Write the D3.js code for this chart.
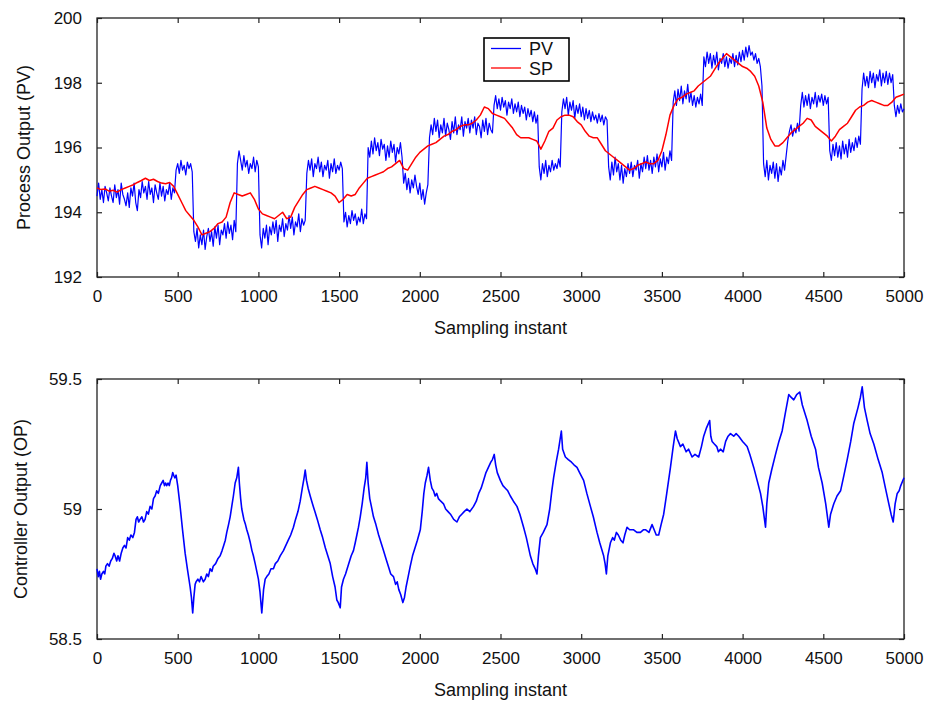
<!DOCTYPE html>
<html>
<head>
<meta charset="utf-8">
<script src="https://cdn.jsdelivr.net/npm/d3@7"></script>
<style>
  body { margin: 0; background: #fff; }
  text { font-family: "Liberation Sans", Arial, sans-serif; }
</style>
</head>
<body>
<script>
const width = 929
const height = 701

// x ticks shared by both panels
const xTicks = [0, 500, 1000, 1500, 2000, 2500, 3000, 3500, 4000, 4500, 5000]
const pvTicks = [192, 194, 196, 198, 200]
const opTicks = [58.5, 59, 59.5]

// process output, one value every 10 samples (0..5000), one row per 100 samples
const pvStep = 10
const pv = [
  194.5, 194.9, 194.4, 194.7, 194.3, 194.8, 194.6, 194.35, 194.75, 194.5,
  194.3, 194.85, 194.45, 194.7, 194.25, 194.9, 194.55, 194.4, 194.2, 194.6,
  194.15, 194.75, 194.5, 194.9, 194.3, 194.05, 194.7, 194.45, 194.95, 194.6,
  194.8, 194.4, 194.95, 194.55, 194.75, 194.3, 194.85, 194.6, 194.4, 194.9,
  194.5, 194.8, 194.35, 194.7, 194.55, 194.9, 194.4, 194.75, 194.6, 195.3,
  195.5, 195.2, 195.6, 195.3, 195.45, 195.15, 195.55, 195.35, 195.5, 195.25,
  193.4, 193.1, 193.5, 192.9, 193.3, 193.0, 193.45, 192.85, 193.25, 193.5,
  193.1, 193.4, 192.95, 193.55, 193.2, 193.6, 193.0, 193.45, 193.3, 193.65,
  193.2, 193.7, 193.35, 193.6, 193.15, 193.75, 193.4, 195.5, 195.9, 195.6,
  195.3, 195.75, 195.4, 195.6, 195.2, 195.5, 195.35, 195.7, 195.25, 195.6,
  195.4, 193.3, 192.9, 193.5, 193.2, 193.6, 193.0, 193.55, 193.3, 193.7,
  193.35, 193.75, 193.1, 193.6, 193.4, 193.8, 193.25, 193.65, 193.45, 193.9,
  193.5, 193.85, 193.3, 193.7, 193.55, 193.95, 193.4, 193.8, 193.6, 193.75,
  195.2, 195.6, 195.3, 195.65, 195.1, 195.5, 195.35, 195.7, 195.25, 195.55,
  195.1, 195.45, 195.3, 195.6, 195.05, 195.5, 195.25, 195.65, 195.2, 195.45,
  195.3, 195.55, 195.35, 193.7, 194.0, 193.55, 193.9, 193.65, 194.05, 193.75,
  193.95, 193.6, 193.85, 193.7, 194.1, 193.65, 193.95, 193.8, 196.0, 195.7,
  196.2, 195.8, 196.3, 195.9, 196.15, 195.75, 196.25, 195.95, 196.1, 195.6,
  196.05, 195.7, 196.2, 195.85, 196.1, 195.55, 196.0, 195.8, 196.15, 195.7,
  194.9, 195.2, 194.7, 195.05, 194.6, 195.0, 194.75, 195.15, 194.8, 194.55,
  194.9, 194.4, 194.7, 194.25, 194.6, 194.85, 196.3, 196.7, 196.4, 196.9,
  196.5, 196.85, 196.3, 196.7, 196.45, 196.9, 196.35, 196.75, 196.55, 196.25,
  196.8, 196.45, 196.95, 196.4, 196.7, 196.55, 196.95, 196.35, 196.8, 196.6,
  196.9, 196.45, 196.85, 196.6, 196.95, 196.4, 196.75, 196.65, 196.3, 196.85,
  196.5, 196.9, 196.4, 196.75, 196.55, 196.45, 197.3, 197.6, 197.2, 197.5,
  197.15, 197.55, 197.25, 197.45, 197.0, 197.4, 197.2, 197.5, 197.05, 197.35,
  197.1, 197.4, 196.95, 197.3, 197.05, 197.25, 196.85, 197.2, 196.95, 197.15,
  196.8, 197.1, 196.75, 197.0, 195.4, 195.0, 195.5, 195.2, 195.6, 195.1,
  195.45, 195.25, 195.6, 195.3, 195.5, 195.35, 195.65, 195.4, 197.1, 197.5,
  197.2, 197.55, 197.0, 197.4, 197.15, 197.45, 196.9, 197.3, 197.05, 197.35,
  196.95, 197.25, 196.85, 197.2, 196.9, 197.15, 196.8, 197.1, 196.85, 197.0,
  196.75, 197.05, 196.8, 197.0, 196.7, 196.95, 196.85, 195.4, 195.0, 195.55,
  195.15, 195.7, 195.25, 195.5, 195.0, 195.45, 194.9, 195.35, 195.1, 195.5,
  195.2, 195.55, 195.1, 195.45, 195.3, 195.6, 195.05, 195.5, 195.25, 195.7,
  195.35, 195.75, 195.3, 195.6, 195.2, 195.7, 195.4, 195.8, 195.25, 195.65,
  195.4, 195.85, 195.3, 195.7, 195.5, 195.9, 195.6, 197.4, 197.75, 197.3,
  197.8, 197.45, 197.9, 197.35, 197.75, 197.5, 197.95, 197.4, 197.7, 197.3,
  197.6, 197.25, 197.55, 197.35, 197.65, 197.3, 198.8, 198.5, 198.95, 198.6,
  198.9, 198.45, 198.85, 198.55, 198.95, 198.4, 198.75, 198.6, 198.9, 198.5,
  198.8, 198.45, 198.75, 198.6, 198.9, 198.5, 198.85, 198.55, 198.95, 198.65,
  199.0, 198.7, 199.1, 198.8, 199.15, 198.85, 198.95, 198.7, 198.9, 198.6,
  198.75, 198.5, 197.9, 195.5, 195.1, 195.6, 195.0, 195.45, 195.2, 195.55,
  195.05, 195.5, 194.95, 195.4, 195.15, 195.6, 195.3, 195.75, 196.2, 196.5,
  196.7, 196.35, 196.6, 196.45, 196.75, 196.5, 197.3, 197.7, 197.25, 197.6,
  197.3, 197.65, 197.2, 197.55, 197.35, 197.7, 197.25, 197.6, 197.4, 197.65,
  197.3, 197.6, 197.35, 197.55, 195.9, 195.6, 196.1, 195.75, 196.15, 195.7,
  196.05, 195.65, 196.2, 195.8, 196.1, 195.7, 196.25, 195.85, 196.15, 195.9,
  196.3, 196.0, 196.35, 196.1, 197.8, 198.3, 197.9, 198.2, 197.85, 198.35,
  198.0, 198.3, 197.85, 198.25, 198.05, 198.4, 197.9, 198.3, 198.0, 198.35,
  197.95, 198.3, 198.0, 198.25, 197.3, 196.95, 197.3, 197.05, 197.35, 197.1,
  197.2
]

// set point, one value every 25 samples (0..5000), one row per 500 samples
const spStep = 25
const sp = [
  194.75, 194.7, 194.72, 194.65, 194.68, 194.62, 194.7, 194.75, 194.8, 194.85,
  194.92, 194.98, 195.05, 194.98, 195.02, 194.95, 194.9, 194.88, 194.92, 194.8,
  194.55, 194.3, 194.05, 193.9, 193.75, 193.55, 193.3, 193.35, 193.4, 193.5,
  193.65, 193.7, 193.85, 194.3, 194.6, 194.55, 194.5, 194.55, 194.6, 194.4,
  194.1, 193.95, 193.9, 193.85, 193.8, 193.9, 194.0, 193.8, 193.85, 194.15,
  194.35, 194.55, 194.7, 194.75, 194.8, 194.75, 194.7, 194.65, 194.6, 194.5,
  194.3, 194.4, 194.55, 194.5, 194.55, 194.75, 194.9, 195.05, 195.1, 195.15,
  195.2, 195.25, 195.35, 195.4, 195.5, 195.6, 195.35, 195.3, 195.5, 195.7,
  195.85, 195.95, 196.05, 196.1, 196.15, 196.25, 196.35, 196.4, 196.5, 196.55,
  196.65, 196.7, 196.7, 196.75, 196.85, 197.0, 197.25, 197.2, 197.05, 197.0,
  196.95, 196.9, 196.75, 196.6, 196.4, 196.3, 196.3, 196.3, 196.25, 196.2,
  195.95, 196.2, 196.5, 196.6, 196.85, 196.95, 197.0, 197.0, 196.95, 196.8,
  196.7, 196.5, 196.35, 196.3, 196.3, 196.1, 195.9, 195.8, 195.7, 195.6,
  195.5, 195.4, 195.3, 195.35, 195.45, 195.5, 195.55, 195.5, 195.5, 195.6,
  195.9, 196.4, 197.0, 197.3, 197.5, 197.55, 197.65, 197.7, 197.75, 197.9,
  198.0, 198.1, 198.2, 198.4, 198.6, 198.75, 198.9, 198.8, 198.7, 198.6,
  198.5, 198.45, 198.35, 198.2, 197.9, 197.4, 196.6, 196.25, 196.05, 196.05,
  196.15, 196.3, 196.45, 196.55, 196.65, 196.75, 196.9, 196.85, 196.65, 196.55,
  196.45, 196.35, 196.2, 196.35, 196.55, 196.65, 196.75, 196.95, 197.15, 197.25,
  197.3, 197.4, 197.45, 197.4, 197.35, 197.3, 197.3, 197.4, 197.55, 197.6,
  197.65
]

// controller output, [sample, value]
const op = [
  [0, 58.77], [8, 58.74], [15, 58.76], [22, 58.73], [30, 58.75], [40, 58.76], [48, 58.75],
  [55, 58.78], [65, 58.79], [75, 58.78], [85, 58.80], [95, 58.81], [105, 58.83], [112, 58.82],
  [122, 58.80], [130, 58.82], [140, 58.80], [150, 58.83], [160, 58.85], [170, 58.86],
  [180, 58.85], [190, 58.89], [200, 58.88], [210, 58.90], [222, 58.89], [232, 58.91],
  [242, 58.96], [250, 58.97], [258, 58.95], [267, 58.96], [278, 58.97], [288, 58.95],
  [298, 58.96], [308, 58.99], [318, 58.98], [329, 59.01], [340, 59.00], [350, 59.04],
  [360, 59.05], [370, 59.07], [380, 59.06], [392, 59.09], [401, 59.10], [410, 59.11],
  [418, 59.09], [425, 59.10], [432, 59.09], [440, 59.10], [448, 59.09], [455, 59.11],
  [462, 59.12], [469, 59.14], [475, 59.13], [482, 59.12], [490, 59.13], [500, 59.09],
  [515, 59.01], [530, 58.92], [546, 58.83], [560, 58.77], [577, 58.70], [585, 58.66],
  [593, 58.60], [600, 58.66], [608, 58.71], [614, 58.72], [625, 58.73], [635, 58.72],
  [645, 58.74], [659, 58.72], [670, 58.73], [680, 58.75], [690, 58.74], [701, 58.77],
  [712, 58.76], [720, 58.78], [735, 58.79], [750, 58.81], [763, 58.82], [775, 58.84],
  [785, 58.86], [795, 58.88], [804, 58.91], [815, 58.94], [825, 58.97], [835, 59.01],
  [845, 59.05], [856, 59.10], [866, 59.12], [876, 59.16], [882, 59.10], [890, 59.04],
  [897, 59.00], [910, 58.96], [920, 58.94], [928, 58.92], [938, 58.90], [950, 58.87],
  [960, 58.84], [969, 58.82], [980, 58.79], [990, 58.76], [1000, 58.73], [1010, 58.68],
  [1021, 58.60], [1032, 58.69], [1042, 58.73], [1052, 58.74], [1065, 58.75], [1078, 58.77],
  [1093, 58.77], [1105, 58.79], [1120, 58.80], [1135, 58.82], [1155, 58.84], [1170, 58.86],
  [1185, 58.88], [1200, 58.90], [1217, 58.93], [1230, 58.96], [1245, 58.99], [1259, 59.03],
  [1272, 59.08], [1283, 59.12], [1290, 59.15], [1298, 59.11], [1308, 59.08], [1321, 59.05],
  [1335, 59.02], [1350, 58.99], [1365, 58.96], [1383, 58.92], [1398, 58.89], [1415, 58.85],
  [1430, 58.82], [1445, 58.79], [1460, 58.74], [1475, 58.70], [1486, 58.65], [1495, 58.64],
  [1507, 58.62], [1515, 58.70], [1527, 58.73], [1540, 58.75], [1560, 58.79], [1575, 58.82],
  [1589, 58.84], [1600, 58.87], [1610, 58.90], [1620, 58.93], [1631, 58.97], [1643, 59.02],
  [1655, 59.08], [1665, 59.12], [1672, 59.18], [1680, 59.10], [1690, 59.04], [1700, 59.01],
  [1713, 58.97], [1728, 58.94], [1745, 58.90], [1760, 58.87], [1775, 58.84], [1790, 58.81],
  [1805, 58.78], [1820, 58.75], [1837, 58.74], [1850, 58.71], [1860, 58.72], [1870, 58.69],
  [1882, 58.67], [1895, 58.64], [1905, 58.66], [1915, 58.70], [1928, 58.74], [1941, 58.78],
  [1955, 58.82], [1970, 58.85], [1985, 58.88], [2003, 58.92], [2015, 58.99], [2025, 59.06],
  [2034, 59.10], [2045, 59.13], [2054, 59.16], [2065, 59.11], [2075, 59.08], [2085, 59.07],
  [2095, 59.05], [2105, 59.06], [2115, 59.04], [2130, 59.03], [2147, 59.02], [2160, 59.00],
  [2175, 58.99], [2190, 58.98], [2210, 58.96], [2230, 58.95], [2245, 58.97], [2260, 58.98],
  [2275, 58.99], [2292, 59.00], [2310, 58.99], [2333, 59.01], [2350, 59.03], [2365, 59.06],
  [2380, 59.08], [2395, 59.11], [2410, 59.14], [2425, 59.16], [2440, 59.18], [2450, 59.19],
  [2461, 59.21], [2470, 59.17], [2480, 59.14], [2499, 59.11], [2515, 59.09], [2530, 59.08],
  [2545, 59.07], [2561, 59.05], [2580, 59.03], [2602, 59.01], [2620, 58.98], [2643, 58.93],
  [2660, 58.89], [2685, 58.82], [2700, 58.79], [2715, 58.77], [2726, 58.75], [2735, 58.82],
  [2747, 58.89], [2765, 58.91], [2788, 58.94], [2805, 59.00], [2818, 59.07], [2829, 59.12],
  [2845, 59.18], [2860, 59.23], [2877, 59.30], [2885, 59.23], [2902, 59.20], [2920, 59.19],
  [2940, 59.18], [2955, 59.17], [2974, 59.16], [2990, 59.14], [3015, 59.11], [3035, 59.06],
  [3057, 59.01], [3075, 58.97], [3098, 58.91], [3115, 58.87], [3139, 58.82], [3148, 58.79],
  [3156, 58.75], [3165, 58.82], [3181, 58.87], [3195, 58.89], [3205, 58.88], [3218, 58.91],
  [3230, 58.90], [3245, 58.88], [3259, 58.87], [3270, 58.90], [3284, 58.93], [3300, 58.92],
  [3325, 58.92], [3345, 58.91], [3367, 58.91], [3385, 58.92], [3400, 58.92], [3420, 58.91],
  [3439, 58.94], [3452, 58.92], [3465, 58.90], [3480, 58.90], [3495, 58.94], [3511, 58.98],
  [3530, 59.06], [3553, 59.16], [3570, 59.24], [3584, 59.30], [3595, 59.27], [3615, 59.24],
  [3630, 59.25], [3650, 59.22], [3665, 59.23], [3687, 59.20], [3705, 59.21], [3728, 59.20],
  [3745, 59.24], [3759, 59.28], [3775, 59.31], [3796, 59.34], [3803, 59.28], [3811, 59.26],
  [3825, 59.25], [3840, 59.24], [3850, 59.22], [3863, 59.23], [3880, 59.22], [3895, 59.26],
  [3910, 59.28], [3925, 59.29], [3945, 59.28], [3960, 59.29], [3976, 59.28], [4000, 59.26],
  [4028, 59.24], [4045, 59.21], [4069, 59.16], [4090, 59.11], [4111, 59.06], [4125, 59.01],
  [4142, 58.93], [4150, 59.02], [4162, 59.10], [4180, 59.15], [4204, 59.21], [4225, 59.26],
  [4245, 59.30], [4265, 59.37], [4286, 59.44], [4300, 59.43], [4317, 59.42], [4335, 59.44],
  [4354, 59.45], [4370, 59.40], [4385, 59.37], [4400, 59.34], [4425, 59.28], [4452, 59.23],
  [4470, 59.16], [4493, 59.10], [4515, 59.02], [4534, 58.93], [4545, 58.98], [4565, 59.02],
  [4585, 59.05], [4607, 59.07], [4628, 59.13], [4648, 59.19], [4670, 59.26], [4689, 59.33],
  [4715, 59.39], [4730, 59.43], [4741, 59.47], [4755, 59.39], [4772, 59.34], [4790, 59.29],
  [4813, 59.25], [4840, 59.19], [4865, 59.14], [4885, 59.08], [4906, 59.02], [4920, 58.98],
  [4933, 58.95], [4945, 59.02], [4958, 59.06], [4970, 59.07], [4980, 59.09], [5000, 59.12]
]

const svg = d3.select("body").append("svg")
    .attr("width", width).attr("height", height)

const x = d3.scaleLinear().domain([0, 5000]).range([97, 904])

function panel(top, bottom, yDomain, yTicks, yFmt, yTitle, titleX) {
    const y = d3.scaleLinear().domain(yDomain).range([bottom, top])
    const g = svg.append("g")

    g.append("g")
        .attr("transform", `translate(0,${bottom})`)
        .call(d3.axisBottom(x).tickValues(xTicks).tickFormat(d3.format("d"))
            .tickSizeInner(-5).tickSizeOuter(0).tickPadding(13))
        .call(a => a.select(".domain").remove())
    g.append("g")
        .attr("transform", `translate(0,${top})`)
        .call(d3.axisTop(x).tickValues(xTicks).tickSizeInner(-5).tickSizeOuter(0).tickFormat(""))
        .call(a => a.select(".domain").remove())
    g.append("g")
        .attr("transform", `translate(${x.range()[0]},0)`)
        .call(d3.axisLeft(y).tickValues(yTicks).tickFormat(yFmt).tickSizeInner(-5).tickSizeOuter(0).tickPadding(15))
        .call(a => a.select(".domain").remove())
    g.append("g")
        .attr("transform", `translate(${x.range()[1]},0)`)
        .call(d3.axisRight(y).tickValues(yTicks).tickSizeInner(-5).tickSizeOuter(0).tickFormat(""))
        .call(a => a.select(".domain").remove())

    g.selectAll(".tick line").attr("stroke", "#222").attr("stroke-width", 1.2)
    g.selectAll(".tick text").attr("font-size", 17).attr("fill", "#111")
        .attr("font-family", "'Liberation Sans', Arial, sans-serif")

    g.append("rect")
        .attr("x", x.range()[0]).attr("y", top)
        .attr("width", x.range()[1] - x.range()[0]).attr("height", bottom - top)
        .attr("fill", "none").attr("stroke", "#222").attr("stroke-width", 1.3)

    g.append("text")
        .attr("x", (x.range()[0] + x.range()[1]) / 2)
        .attr("y", bottom + 57)
        .attr("text-anchor", "middle")
        .attr("font-size", 18).attr("fill", "#111")
        .text("Sampling instant")

    g.append("text")
        .attr("transform", `translate(${titleX},${(top + bottom) / 2}) rotate(-90)`)
        .attr("text-anchor", "middle")
        .attr("font-size", 18).attr("fill", "#111")
        .text(yTitle)

    return {g, y}
}

const p1 = panel(18, 277, [192, 200], pvTicks, d3.format("d"), "Process Output (PV)", 30)
const p2 = panel(379, 639, [58.5, 59.5], opTicks, d => d === 59 ? "59" : d3.format(".1f")(d), "Controller Output (OP)", 27)

const line1 = d3.line().x(d => x(d[0])).y(d => p1.y(d[1]))
const line2 = d3.line().x(d => x(d[0])).y(d => p2.y(d[1]))

p1.g.append("path")
    .datum(pv.map((v, i) => [i * pvStep, v]))
    .attr("fill", "none").attr("stroke", "#0000ff").attr("stroke-width", 1.2)
    .attr("stroke-linejoin", "round")
    .attr("d", line1)

p1.g.append("path")
    .datum(sp.map((v, i) => [i * spStep, v]))
    .attr("fill", "none").attr("stroke", "#ff0000").attr("stroke-width", 1.5)
    .attr("stroke-linejoin", "round")
    .attr("d", line1)

p2.g.append("path")
    .datum(op)
    .attr("fill", "none").attr("stroke", "#0000ff").attr("stroke-width", 1.6)
    .attr("stroke-linejoin", "round")
    .attr("d", line2)

// legend
const legend = svg.append("g")
legend.append("rect")
    .attr("x", 484).attr("y", 38).attr("width", 85).attr("height", 43)
    .attr("fill", "#fff").attr("stroke", "#000").attr("stroke-width", 1.6)
const items = [["PV", "#0000ff"], ["SP", "#ff0000"]]
items.forEach(([name, color], i) => {
    const yy = 48.5 + i * 19.5
    legend.append("line")
        .attr("x1", 491).attr("x2", 521).attr("y1", yy).attr("y2", yy)
        .attr("stroke", color).attr("stroke-width", 1.3)
    legend.append("text")
        .attr("x", 529).attr("y", yy + 6.5)
        .attr("font-size", 18).attr("fill", "#111")
        .text(name)
})
</script>
</body>
</html>
